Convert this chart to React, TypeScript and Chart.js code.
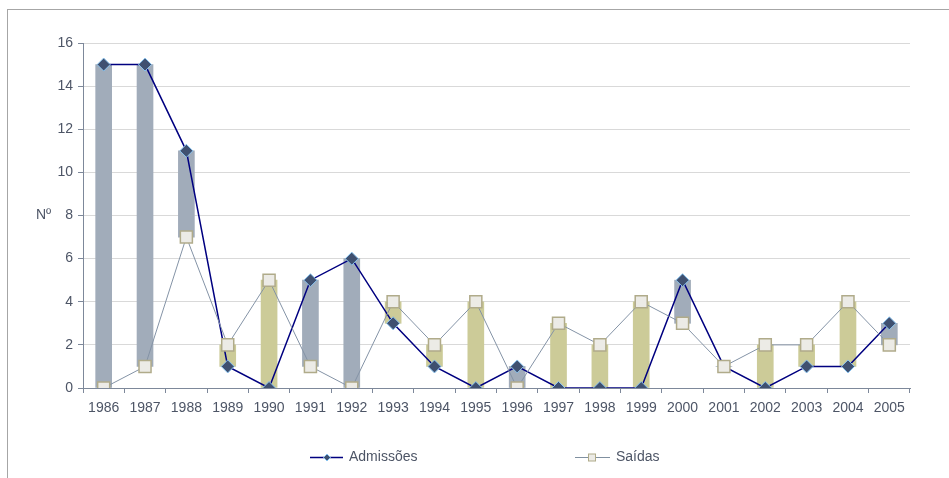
import React, { useEffect, useRef } from "react";
import { Chart, registerables } from "chart.js";

Chart.register(...registerables);

const years = ["1986","1987","1988","1989","1990","1991","1992","1993","1994","1995","1996","1997","1998","1999","2000","2001","2002","2003","2004","2005"];
const admissoes = [15, 15, 11, 1, 0, 5, 6, 3, 1, 0, 1, 0, 0, 0, 5, 1, 0, 1, 1, 3];
const saidas = [0, 1, 7, 2, 5, 1, 0, 4, 2, 4, 0, 3, 2, 4, 3, 1, 2, 2, 4, 2];
const yTicks = [0, 2, 4, 6, 8, 10, 12, 14, 16];

const TEXT = "#4d5566";
const FONT = "Liberation Sans, Arial, sans-serif";

const decorPlugin = {
  id: "decor",
  beforeDraw(chart: any) {
    const ctx = chart.ctx;
    ctx.save();
    ctx.strokeStyle = "#a6a6a6";
    ctx.lineWidth = 1;
    ctx.strokeRect(7.5, 9.5, 1200, 1200);
    ctx.restore();
  },
  afterDraw(chart: any) {
    const ctx = chart.ctx;
    ctx.save();
    ctx.fillStyle = TEXT;
    ctx.font = "14px " + FONT;
    ctx.textBaseline = "middle";
    ctx.textAlign = "left";
    ctx.fillText("Nº", 36, 215);

    // legend
    const ly = 457.5;
    // Admissões
    ctx.strokeStyle = "#000080";
    ctx.lineWidth = 1.5;
    ctx.beginPath();
    ctx.moveTo(310, ly);
    ctx.lineTo(343, ly);
    ctx.stroke();
    ctx.fillStyle = "#3f5070";
    ctx.strokeStyle = "#8ac4f0";
    ctx.lineWidth = 1;
    ctx.beginPath();
    ctx.moveTo(327, ly - 3.5);
    ctx.lineTo(330.5, ly);
    ctx.lineTo(327, ly + 3.5);
    ctx.lineTo(323.5, ly);
    ctx.closePath();
    ctx.fill();
    ctx.stroke();
    ctx.fillStyle = TEXT;
    ctx.fillText("Admissões", 349, ly);

    // Saídas
    ctx.strokeStyle = "#8090a0";
    ctx.lineWidth = 1;
    ctx.beginPath();
    ctx.moveTo(575, ly);
    ctx.lineTo(610, ly);
    ctx.stroke();
    ctx.fillStyle = "#ecebe6";
    ctx.strokeStyle = "#b0ab8a";
    ctx.fillRect(588.5, ly - 3.5, 7, 7);
    ctx.strokeRect(588.5, ly - 3.5, 7, 7);
    ctx.fillStyle = TEXT;
    ctx.fillText("Saídas", 616, ly);
    ctx.restore();
  },
};

export default function App() {
  const ref = useRef<HTMLCanvasElement>(null);
  useEffect(() => {
    const barData = years.map((_, i) => [Math.min(admissoes[i], saidas[i]), Math.max(admissoes[i], saidas[i])]);
    const barColors = years.map((_, i) => (admissoes[i] >= saidas[i] ? "#a1acba" : "#cccb98"));
    const chart = new Chart(ref.current as HTMLCanvasElement, {
      type: "bar",
      data: {
        labels: years,
        datasets: [
          {
            type: "line",
            label: "Saídas",
            data: saidas,
            borderColor: "#8493a6",
            borderWidth: 1,
            pointStyle: "rect",
            pointRadius: 8.5,
            pointBackgroundColor: "#ecebe6",
            pointBorderColor: "#b0ab8a",
            pointBorderWidth: 1.5,
            order: 0,
          } as any,
          {
            type: "line",
            label: "Admissões",
            data: admissoes,
            borderColor: "#000080",
            borderWidth: 1.5,
            pointStyle: "rectRot",
            pointRadius: 6.5,
            pointBackgroundColor: "#3f5070",
            pointBorderColor: "#8ac4f0",
            pointBorderWidth: 1,
            order: 1,
          } as any,
          {
            type: "bar",
            label: "bars",
            data: barData as any,
            backgroundColor: barColors,
            borderWidth: 0,
            barThickness: 16,
            order: 2,
          } as any,
        ],
      },
      options: {
        responsive: false,
        maintainAspectRatio: false,
        animation: false,
        devicePixelRatio: 1,
        layout: { padding: { left: 33, top: 43, right: 39, bottom: 50 } },
        plugins: { legend: { display: false }, tooltip: { enabled: false } },
        scales: {
          x: {
            offset: true,
            grid: {
              offset: true,
              drawOnChartArea: false,
              drawTicks: true,
              tickLength: 5,
              tickColor: "#7d889a",
            },
            border: { color: "#7d889a", width: 1 },
            ticks: { color: TEXT, font: { family: FONT, size: 14 }, padding: 7, maxRotation: 0, autoSkip: false },
            afterFit(scale: any) { scale.height = 40; },
          },
          y: {
            min: 0,
            max: 16,
            afterBuildTicks(scale: any) { scale.ticks = yTicks.map((v) => ({ value: v })); },
            grid: {
              color: "#d9d9d9",
              drawTicks: true,
              tickLength: 5,
              tickColor: "#7d889a",
            },
            border: { color: "#7d889a", width: 1 },
            ticks: { color: TEXT, font: { family: FONT, size: 14 }, padding: 5 },
            afterFit(scale: any) { scale.width = 50; },
          },
        },
      },
      plugins: [decorPlugin],
    } as any);
    return () => chart.destroy();
  }, []);
  return (
    <div style={{ position: "absolute", left: 0, top: 0, width: 949, height: 478, background: "#fff" }}>
      <canvas ref={ref} width={949} height={478} style={{ width: 949, height: 478, display: "block" }} />
    </div>
  );
}
